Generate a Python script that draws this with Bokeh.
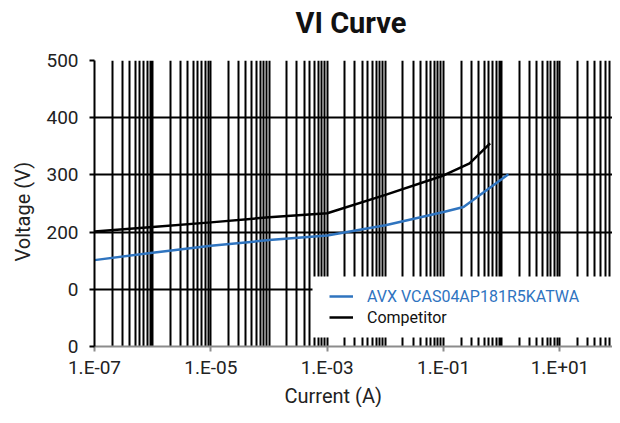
from bokeh.plotting import figure
from bokeh.models import (FixedTicker, Legend, LegendItem, BoxAnnotation, Range1d, Title,
                          LinearAxis)
from bokeh.embed import file_html
from bokeh.resources import INLINE

# ---- data ----
title_text = "VI Curve"
x_label = "Current (A)"
y_label = "Voltage (V)"

avx_name = "AVX VCAS04AP181R5KATWA"
avx_current = [1e-7, 1e-6, 1e-5, 1e-4, 1e-3, 1e-2, 1e-1, 0.22, 1.3]
avx_voltage = [151, 164, 176, 186, 194, 212, 235, 244, 301]

comp_name = "Competitor"
comp_current = [1e-7, 1e-6, 1e-5, 1e-4, 1e-3, 1e-2, 1e-1, 0.28, 0.63]
comp_voltage = [201, 209, 217, 226, 233, 265, 299, 320, 355]

x_major_ticks = [1e-7, 1e-5, 1e-3, 1e-1, 1e1]
x_tick_labels = ["1.E-07", "1.E-05", "1.E-03", "1.E-01", "1.E+01"]
y_ticks = [0, 100, 200, 300, 400, 500]
y_tick_labels = ["0", "0", "200", "300", "400", "500"]
decades = [-7, -6, -5, -4, -3, -2, -1, 0, 1]

x_minor_ticks = [k * 10.0 ** d for d in decades for k in range(1, 10)] + [1e2]
x_minor_ticks = [t for t in x_minor_ticks if all(abs(t - m) > m * 1e-9 for m in x_major_ticks)]

FONT = "Roboto"
BLUE = "#2f74bf"

p = figure(width=612, height=407, x_axis_type="log",
           x_range=Range1d(1e-7, 80), y_range=Range1d(0, 500),
           output_backend="svg", toolbar_location=None,
           min_border_left=93, min_border_right=0, min_border_top=60, min_border_bottom=60)
p.outline_line_color = None
p.background_fill_color = "white"
p.border_fill_color = "white"

xa = p.below[0]   # the main (log) x axis
ya = p.left[0]    # the y axis

# invisible spacer between the frame and the title (white tick on white)
spacer = LinearAxis(ticker=FixedTicker(ticks=[1e-7]), axis_line_color=None,
                    major_tick_line_color="white", major_tick_line_width=1,
                    minor_tick_line_color=None,
                    major_label_overrides={1e-7: ""},
                    major_label_text_font_size="0px", major_label_standoff=0,
                    major_tick_in=0, major_tick_out=21, minor_tick_in=0, minor_tick_out=0)
p.add_layout(spacer, "above")

# title
p.title.text = title_text
p.title.text_font = FONT
p.title.text_font_size = "29px"
p.title.text_font_style = "bold"
p.title.text_color = "#111111"
p.title.align = "left"
p.title.offset = 201
p.title.standoff = 0

# axes
xa.ticker = FixedTicker(ticks=x_major_ticks, minor_ticks=x_minor_ticks)
xa.major_label_overrides = dict(zip(x_major_ticks, x_tick_labels))
ya.ticker = FixedTicker(ticks=y_ticks)
ya.major_label_overrides = dict(zip(y_ticks, y_tick_labels))

for ax in (xa, ya):
    ax.major_label_text_font = FONT
    ax.major_label_text_font_size = "19px"
    ax.major_label_text_color = "#222222"
    ax.minor_tick_line_color = None
    ax.major_tick_in = 0
    ax.major_tick_out = 5
    ax.major_tick_line_width = 2
    ax.axis_line_width = 2

xa.axis_line_color = "#8c8c8c"
xa.major_tick_line_color = "#8c8c8c"
xa.major_label_standoff = 4
ya.axis_line_color = "black"
ya.major_tick_line_color = "black"
ya.major_label_standoff = 11

# axis titles
p.add_layout(Title(text=x_label, align="left", offset=190, standoff=0,
                   text_font=FONT, text_font_size="20px", text_font_style="normal",
                   text_color="#222222"), "below")
p.add_layout(Title(text=y_label, align="left", offset=85, standoff=17,
                   text_font=FONT, text_font_size="20px", text_font_style="normal",
                   text_color="#222222"), "left")

# grids
p.xgrid.grid_line_color = "black"
p.xgrid.grid_line_width = 2
p.xgrid.minor_grid_line_color = "black"
p.xgrid.minor_grid_line_width = 2
p.ygrid.grid_line_color = "black"
p.ygrid.grid_line_width = 2

# lines
r_avx = p.line(avx_current, avx_voltage, line_color=BLUE, line_width=2.5)
r_comp = p.line(comp_current, comp_voltage, line_color="black", line_width=2.5)

# legend background
p.add_layout(BoxAnnotation(left=218, right=530, bottom=9, top=70,
                           left_units="screen", right_units="screen",
                           bottom_units="screen", top_units="screen",
                           fill_color="white", fill_alpha=1.0, line_color=None))

def make_legend(item, loc, color):
    return Legend(items=[item], location=loc, margin=0, padding=0, spacing=0,
                  glyph_width=24, glyph_height=20, label_height=20,
                  label_standoff=14, label_text_font=FONT,
                  label_text_font_size="16px", label_text_color=color,
                  background_fill_alpha=0, border_line_color=None)

p.add_layout(make_legend(LegendItem(label=avx_name, renderers=[r_avx]), (235, 40), BLUE))
p.add_layout(make_legend(LegendItem(label=comp_name, renderers=[r_comp]), (235, 19), "#111111"))

open("out.html", "w").write(file_html(p, INLINE))
